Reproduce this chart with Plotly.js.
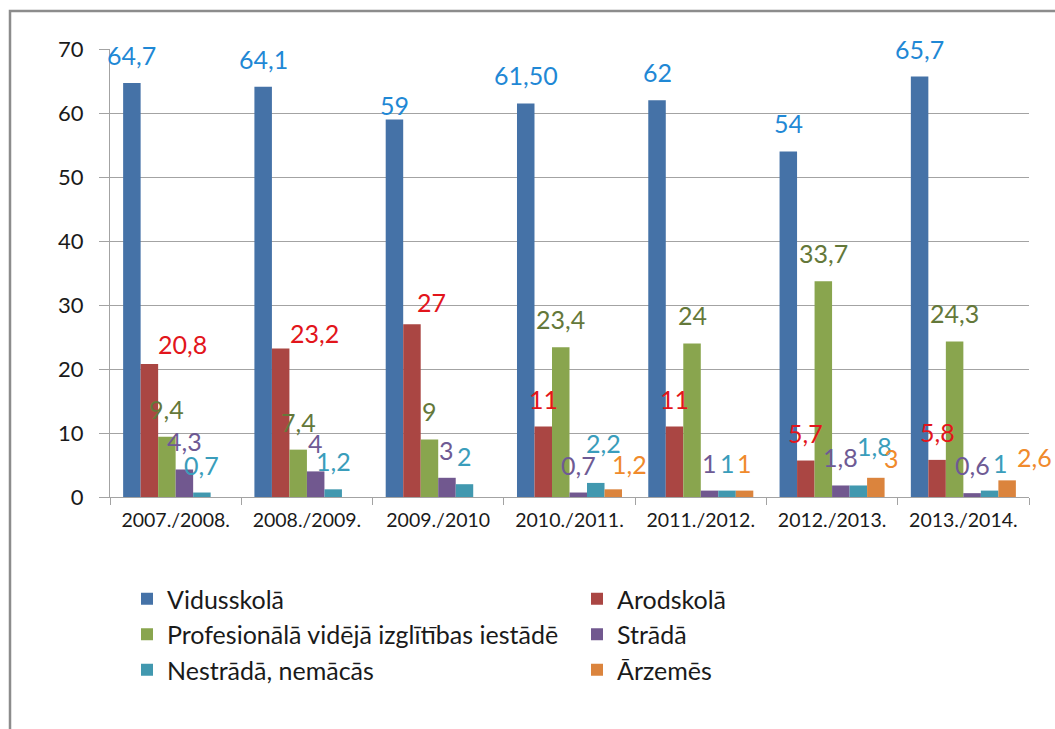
<!DOCTYPE html>
<html><head><meta charset="utf-8">
<script src="https://cdn.plot.ly/plotly-3.0.1.min.js"></script>
<style>html,body{margin:0;padding:0;background:#fff}#chart{width:1055px;height:729px}</style>
</head><body><div id="chart"></div>
<script>
// ---- data ----
const categories = ['2007./2008.','2008./2009.','2009./2010','2010./2011.','2011./2012.','2012./2013.','2013./2014.'];
const seriesNames = ['Vidusskolā','Arodskolā','Profesionālā vidējā izglītības iestādē','Strādā','Nestrādā, nemācās','Ārzemēs'];
const vidusskola   = [64.7, 64.1, 59, 61.5, 62, 54, 65.7];
const arodskola    = [20.8, 23.2, 27, 11, 11, 5.7, 5.8];
const profesionala = [9.4, 7.4, 9, 23.4, 24, 33.7, 24.3];
const strada       = [4.3, 4, 3, 0.7, 1, 1.8, 0.6];
const nestrada     = [0.7, 1.2, 2, 2.2, 1, 1.8, 1];
const arzemes      = [null, null, null, 1.2, 1, 3, 2.6];
const vidusskolaLabels   = ['64,7','64,1','59','61,50','62','54','65,7'];
const arodskolaLabels    = ['20,8','23,2','27','11','11','5,7','5,8'];
const profesionalaLabels = ['9,4','7,4','9','23,4','24','33,7','24,3'];
const stradaLabels       = ['4,3','4','3','0,7','1','1,8','0,6'];
const nestradaLabels     = ['0,7','1,2','2','2,2','1','1,8','1'];
const arzemesLabels      = ['','','','1,2','1','3','2,6'];
const yTicks = [0,10,20,30,40,50,60,70];

// ---- styles ----
const barColors   = ['#4572A7','#AA4643','#89A54E','#71588F','#4198AF','#DB843D'];
const labelColors = ['#1F88D5','#E2151B','#64783A','#6E5A94','#3A9DBB','#F08A2C'];
const FONT = 'Lato, "Open Sans", sans-serif';
const GRID = '#A3A3A3';
// manual label nudges (px): [dx, dy up] keyed by series-group, as placed in the original
const labelNudge = {'0-2':[0,-14],'1-0':[33,-8],'1-1':[34,-12],'1-2':[20,-6],'4-3':[8,12],'5-3':[16,-3],
                    '4-5':[16,11],'5-5':[16,-8],'4-6':[11,0],'5-6':[27,-5]};

const values = [vidusskola, arodskola, profesionala, strada, nestrada, arzemes];
const labels = [vidusskolaLabels, arodskolaLabels, profesionalaLabels, stradaLabels, nestradaLabels, arzemesLabels];

const traces = values.map((v, i) => ({
  type: 'bar', name: seriesNames[i], x: categories, y: v,
  marker: {color: barColors[i], line: {width: 0}}, hoverinfo: 'skip'
}));

const W = 1055, H = 729;
const M = {l: 110, r: 26, t: 49, b: 232, autoexpand: false};
const pw = W - M.l - M.r, ph = H - M.t - M.b;
const px2x = p => (p - M.l) / pw;
const px2y = p => (H - M.b - p) / ph;

const bargap = 0.2, nSeries = values.length;
const slot = (1 - bargap) / nSeries;
const annotations = [];
values.forEach((v, i) => {
  v.forEach((val, j) => {
    if (val === null || val === undefined) return;
    const n = labelNudge[i + '-' + j] || [0, 0];
    annotations.push({
      xref: 'x', yref: 'y', x: j + (i - (nSeries - 1) / 2) * slot, y: val,
      text: labels[i][j], showarrow: false, xanchor: 'center', yanchor: 'bottom',
      xshift: n[0], yshift: 11 + n[1],
      font: {family: FONT, size: 25, color: labelColors[i]}
    });
  });
});

const layout = {
  width: W, height: H, margin: M, paper_bgcolor: '#fff', plot_bgcolor: '#fff',
  barmode: 'group', bargap: bargap, bargroupgap: 0, showlegend: true,
  font: {family: FONT, color: '#1a1a1a'},
  xaxis: {type: 'category', range: [-0.5, categories.length - 0.5], autorange: false,
          showgrid: false, showline: true, linecolor: GRID, linewidth: 1,
          ticks: 'outside', tickson: 'boundaries', ticklen: 7, tickcolor: GRID, tickwidth: 1,
          tickfont: {family: FONT, size: 19.5, color: '#1a1a1a'}, ticklabelstandoff: 6, fixedrange: true, automargin: false},
  yaxis: {range: [0, 70], autorange: false, tickvals: yTicks, showgrid: true, gridcolor: GRID, gridwidth: 1,
          showline: true, linecolor: GRID, linewidth: 1, zeroline: false,
          ticks: 'outside', ticklen: 10, tickcolor: GRID, tickwidth: 1,
          tickfont: {family: FONT, size: 22, color: '#1a1a1a'}, ticklabelstandoff: 11, fixedrange: true, automargin: false},
  legend: {orientation: 'h', x: px2x(127), xanchor: 'left', y: px2y(576), yanchor: 'top',
           entrywidth: 405, entrywidthmode: 'pixels', itemwidth: 30,
           font: {family: FONT, size: 25, color: '#1a1a1a'}, bgcolor: 'rgba(0,0,0,0)', traceorder: 'normal'},
  annotations: annotations,
  shapes: [{type: 'rect', xref: 'paper', yref: 'paper', x0: px2x(10), x1: px2x(1075), y0: px2y(760), y1: px2y(11),
            line: {color: '#8C8C8C', width: 2.5}, fillcolor: 'rgba(0,0,0,0)', layer: 'above'}]
};

Plotly.newPlot('chart', traces, layout, {displayModeBar: false, staticPlot: true});
</script>
</body></html>
